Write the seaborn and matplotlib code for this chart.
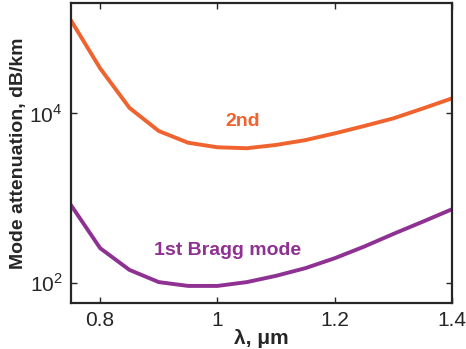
import matplotlib
matplotlib.use("Agg")
import matplotlib.pyplot as plt
import seaborn as sns
import pandas as pd

# wavelength, um
wavelength = [0.75, 0.80, 0.85, 0.90, 0.95, 1.00, 1.05, 1.10, 1.15, 1.20, 1.25, 1.30, 1.35, 1.40]

# mode attenuation, dB/km
second_mode = [124000, 33600, 11500, 6140, 4470, 3950, 3850, 4210, 4800, 5760, 7030, 8660, 11300, 14900]
bragg_mode = [828, 256, 142, 102, 92, 92, 102, 121, 149, 195, 267, 377, 525, 736]

orange = "#F0622E"
purple = "#8E3192"

df = pd.DataFrame({"lam": wavelength, "second": second_mode, "bragg": bragg_mode})

sns.set_style("ticks")
plt.rcParams['font.family'] = ['Liberation Sans', 'DejaVu Sans']
plt.rcParams['mathtext.fontset'] = 'custom'
plt.rcParams['mathtext.rm'] = 'Liberation Sans'

fig, ax = plt.subplots(figsize=(4.66, 3.49), dpi=100)
fig.subplots_adjust(left=0.152, right=0.970, top=0.991, bottom=0.132)

sns.lineplot(data=df, x="lam", y="second", color=orange, lw=2.8, ax=ax)
sns.lineplot(data=df, x="lam", y="bragg", color=purple, lw=2.8, ax=ax)

ax.set_yscale("log")
ax.set_xlim(0.75, 1.4)
ax.set_ylim(58, 1.97e5)
ax.set_xticks([0.8, 1.0, 1.2, 1.4])
ax.set_xticklabels(["0.8", "1", "1.2", "1.4"])
ax.set_yticks([1e2, 1e4])
ax.set_yticklabels([r"$10^2$", r"$10^4$"])
ax.minorticks_off()
ax.tick_params(direction="in", top=True, right=True, length=4, width=1,
               labelsize=15, pad=6)
for s in ax.spines.values():
    s.set_linewidth(1.6)

ax.set_xlabel("λ, μm", fontsize=15, fontweight="bold", labelpad=-1)
ax.set_ylabel("Mode attenuation, dB/km", fontsize=14, fontweight="bold", labelpad=2)

ax.text(1.043, 8050, "2nd", color=orange, fontsize=14, fontweight="bold",
        ha="center", va="center")
ax.text(1.017, 238, "1st Bragg mode", color=purple, fontsize=14, fontweight="bold",
        ha="center", va="center")

fig.savefig("out.png", dpi=100)
